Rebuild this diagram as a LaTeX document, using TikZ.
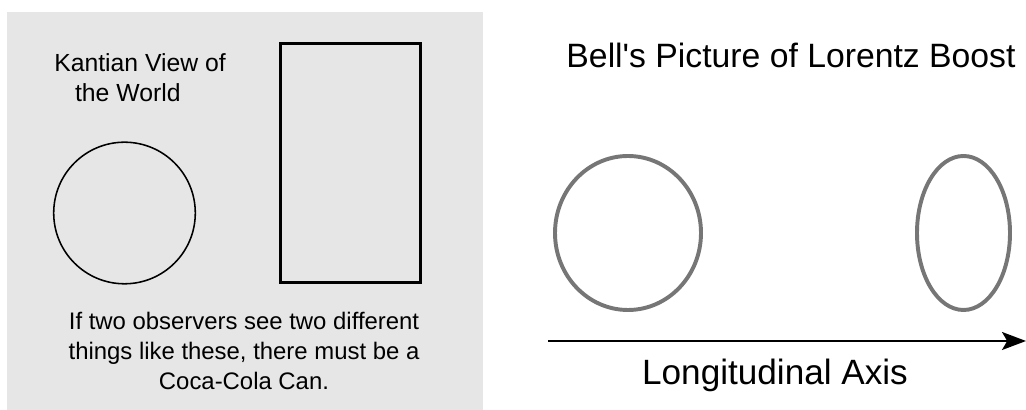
\documentclass[tikz,border=0pt]{standalone}
\usepackage{fontspec}
\setmainfont{Liberation Sans}
\usetikzlibrary{arrows.meta}
\definecolor{painelcinza}{RGB}{230,230,230}
\definecolor{tracocinza}{RGB}{118,118,118}
\tikzset{
  texto/.style={inner sep=0pt, font=\fontsize{17}{21.6}\selectfont},
  titulo/.style={inner sep=0pt, font=\fontsize{24}{28}\selectfont},
  contorno/.style={draw=tracocinza, line width=2.8pt}
}

\begin{document}
\begin{tikzpicture}
  \useasboundingbox (0,0) rectangle (25.65,10.25);
  % Kant
  \fill[painelcinza] (0.175,0) rectangle (12.075,9.95);
  \draw[line width=1.1pt] (3.1125,4.925) circle (1.77);
  \draw[line width=2pt] (7.0125,3.1875) rectangle (10.5125,9.1625);
  \node[texto, anchor=north west, align=left, font=\fontsize{17.6}{21.3}\selectfont] (kant) at (1.35,8.91)
    {Kantian View of\\\hspace*{0.52cm}the World};
  \node[texto, anchor=north, align=center] (lata) at (6.1,2.46)
    {If two observers see two different\\things like these, there must be a\\Coca-Cola Can.};
  % Bell
  \node[titulo, anchor=base] (bell) at (19.775,8.55) {Bell\textquotesingle s Picture of Lorentz Boost};
  \draw[contorno] (15.7,4.425) ellipse (1.825 and 1.925);
  \draw[contorno] (24.0875,4.425) ellipse (1.1625 and 1.925);
  \coordinate (eixoini) at (13.7,1.725);
  \coordinate (eixofim) at (25.65,1.725);
  \draw[line width=1.3pt, -{Stealth[length=0.6cm, width=0.45cm, inset=0.13cm]}] (eixoini) -- (eixofim);
  \node[titulo, anchor=base, font=\fontsize{25}{29}\selectfont] (eixo) at (19.375,0.625) {Longitudinal Axis};
\end{tikzpicture}
\end{document}
